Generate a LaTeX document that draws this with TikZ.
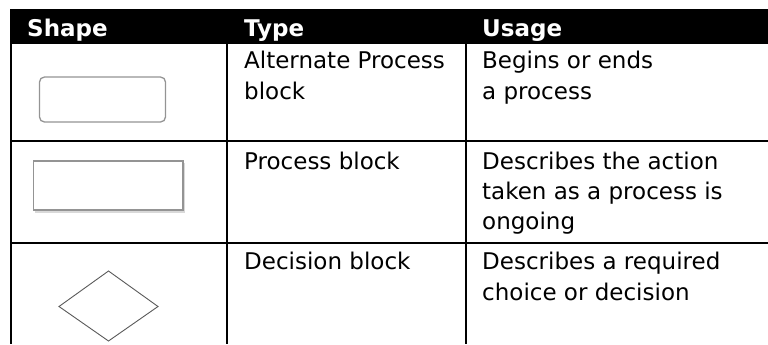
\documentclass[tikz,border=0pt]{standalone}
\usepackage{fontspec}
\setmainfont{DejaVu Sans}
\begin{document}
\begin{tikzpicture}[x=1bp,y=-1bp,
  rule/.style={line width=2bp, black},
  txt/.style={anchor=base west, inner sep=0pt, font=\fontsize{23bp}{30bp}\selectfont, text=black},
  head/.style={anchor=base west, inner sep=0pt, font=\fontsize{23bp}{30bp}\selectfont\bfseries, text=white},
  shapeline/.style={draw=black!42, line width=1.3bp, fill=white}
]
\useasboundingbox (0,0) rectangle (768,344);
% header bar
\fill[black] (10.3,9) rectangle (768,44);
% grid lines
\draw[rule] (11.3,9) -- (11.3,344);
\draw[rule] (227,44) -- (227,344);
\draw[rule] (466,44) -- (466,344);
\draw[rule] (10.3,141) -- (768,141);
\draw[rule] (10.3,243) -- (768,243);
% header texts
\node[head] (hShape) at (27,36) {Shape};
\node[head] (hType) at (244,36) {Type};
\node[head] (hUsage) at (482,36) {Usage};
% row 1
\draw[shapeline, rounded corners=5bp] (39.5,77) rectangle (165.5,122);
\node[txt] (t1a) at (244,68) {Alternate Process};
\node[txt] (t1b) at (244,99) {block};
\node[txt] (u1a) at (482,68) {Begins or ends};
\node[txt] (u1b) at (482,99) {a process};
% row 2
\draw[draw=black!15, line width=1.3bp] (35,212) -- (184.5,212) -- (184.5,162.5);
\draw[shapeline] (33.5,161) rectangle (183,210);
\node[txt] (t2) at (244,169) {Process block};
\node[txt] (u2a) at (482,169) {Describes the action};
\node[txt] (u2b) at (482,199) {taken as a process is};
\node[txt] (u2c) at (482,229) {ongoing};
% row 3
\draw[draw=black!65, line width=0.9bp] (59,306.5) -- (108.5,271) -- (158,306.5) -- (108.5,341) -- cycle;
\node[txt] (t3) at (244,269) {Decision block};
\node[txt] (u3a) at (482,269) {Describes a required};
\node[txt] (u3b) at (482,300) {choice or decision};
\end{tikzpicture}
\end{document}
